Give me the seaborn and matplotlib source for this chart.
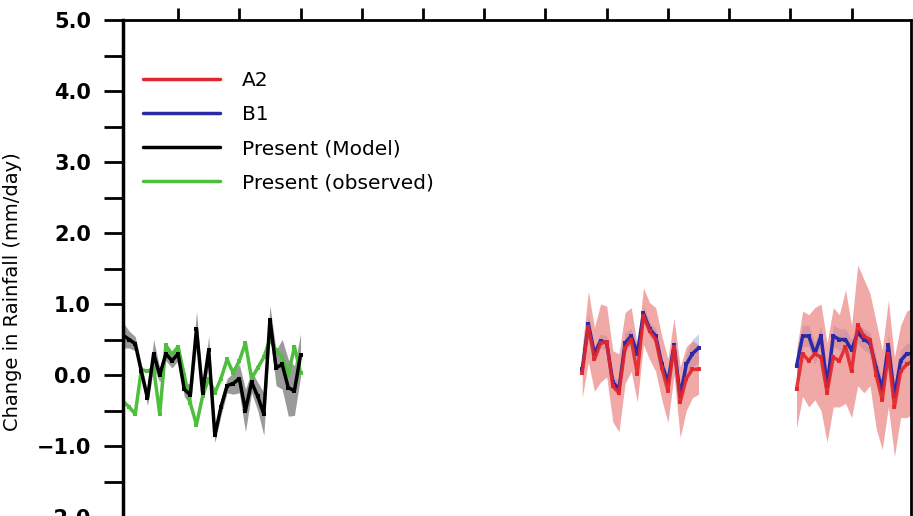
import matplotlib
matplotlib.use('Agg')
import matplotlib.pyplot as plt
import seaborn as sns
from matplotlib.lines import Line2D
from matplotlib.ticker import MultipleLocator, FuncFormatter

# years for each period
present_years = list(range(1961, 1991))
mid_years = list(range(2036, 2056))
late_years = list(range(2071, 2091))

# present day, model (black) and observed (green)
model_present = [0.56, 0.50, 0.44, 0.05, -0.33, 0.30, 0.00, 0.30, 0.20, 0.30,
                 -0.20, -0.28, 0.65, -0.25, 0.35, -0.85, -0.45, -0.15, -0.12, -0.05,
                 -0.50, -0.10, -0.30, -0.55, 0.78, 0.10, 0.15, -0.18, -0.22, 0.28]
model_spread = [0.18, 0.12, 0.10, 0.10, 0.10, 0.20, 0.10, 0.10, 0.10, 0.10,
                0.10, 0.15, 0.25, 0.10, 0.20, 0.10, 0.12, 0.10, 0.15, 0.20,
                0.30, 0.15, 0.20, 0.30, 0.20, 0.25, 0.35, 0.40, 0.35, 0.30]
obs_present = [-0.37, -0.45, -0.55, 0.08, 0.05, 0.10, -0.55, 0.42, 0.29, 0.40,
               0.00, -0.40, -0.70, -0.30, -0.05, -0.25, -0.05, 0.22, 0.03, 0.20,
               0.45, -0.05, 0.10, 0.25, 0.50, 0.35, 0.25, 0.00, 0.40, 0.03]

# mid century scenarios
a2_mid = [0.03, 0.68, 0.22, 0.45, 0.47, -0.16, -0.25, 0.38, 0.50, 0.02,
          0.83, 0.62, 0.50, 0.10, -0.22, 0.40, -0.38, -0.05, 0.08, 0.08]
a2_mid_spread = [0.35, 0.50, 0.45, 0.55, 0.50, 0.50, 0.55, 0.50, 0.45, 0.40,
                 0.40, 0.40, 0.45, 0.45, 0.45, 0.40, 0.50, 0.45, 0.40, 0.35]
b1_mid = [0.08, 0.72, 0.30, 0.48, 0.45, -0.10, -0.20, 0.45, 0.55, 0.30,
          0.87, 0.65, 0.55, 0.15, -0.10, 0.42, -0.30, 0.15, 0.30, 0.38]
b1_mid_spread = [0.10, 0.15, 0.10, 0.10, 0.10, 0.10, 0.10, 0.15, 0.10, 0.10,
                 0.10, 0.10, 0.10, 0.10, 0.10, 0.10, 0.15, 0.15, 0.20, 0.20]

# end of century scenarios
a2_late = [-0.20, 0.30, 0.20, 0.30, 0.25, -0.25, 0.25, 0.20, 0.40, 0.05,
           0.70, 0.55, 0.50, 0.00, -0.35, 0.30, -0.45, 0.05, 0.15, 0.20]
a2_late_spread = [0.55, 0.60, 0.65, 0.65, 0.75, 0.70, 0.70, 0.65, 0.80, 0.65,
                  0.85, 0.80, 0.65, 0.75, 0.70, 0.75, 0.70, 0.65, 0.75, 0.75]
b1_late = [0.12, 0.55, 0.55, 0.30, 0.55, -0.15, 0.55, 0.50, 0.50, 0.35,
           0.60, 0.50, 0.45, 0.10, -0.20, 0.42, -0.30, 0.20, 0.30, 0.30]
b1_late_spread = [0.15] * 20

RED = '#e3262b'
BLUE = '#2a2aa8'
GREEN = '#4dbf3c'

sns.set_style('ticks')
plt.rcParams['font.family'] = ['DejaVu Sans']
plt.rcParams['text.color'] = 'black'
plt.rcParams['axes.labelcolor'] = 'black'

fig = plt.figure(figsize=(9.13, 5.16), dpi=100)
ax = fig.add_axes([123 / 913, -1 / 516, 788 / 913, 497 / 516])


def band(x, y, s, color, alpha):
    lo = [a - b for a, b in zip(y, s)]
    hi = [a + b for a, b in zip(y, s)]
    ax.fill_between(x, lo, hi, color=color, alpha=alpha, lw=0)


band(present_years, model_present, model_spread, '#707070', 0.7)
band(mid_years, b1_mid, b1_mid_spread, '#9fb4e6', 0.6)
band(late_years, b1_late, b1_late_spread, '#9fb4e6', 0.6)
band(mid_years, a2_mid, a2_mid_spread, '#e8706e', 0.6)
band(late_years, a2_late, a2_late_spread, '#e8706e', 0.6)

kw = dict(marker='s', markersize=3, markeredgewidth=0, lw=2.5, ax=ax)
sns.lineplot(x=present_years, y=obs_present, color=GREEN, **kw)
sns.lineplot(x=present_years, y=model_present, color='black', **kw)
sns.lineplot(x=mid_years, y=b1_mid, color=BLUE, **kw)
sns.lineplot(x=late_years, y=b1_late, color=BLUE, **kw)
sns.lineplot(x=mid_years, y=a2_mid, color=RED, alpha=0.9, **kw)
sns.lineplot(x=late_years, y=a2_late, color=RED, alpha=0.9, **kw)

ax.set_xlim(1961, 2089.7)
ax.set_ylim(-2.0, 5.0)

ax.yaxis.set_major_locator(MultipleLocator(1.0))
ax.yaxis.set_minor_locator(MultipleLocator(0.5))
ax.yaxis.set_major_formatter(FuncFormatter(lambda v, p: f'{v:.1f}'.replace('-', '\u2212')))
ax.tick_params(axis='y', which='both', length=14, width=2, direction='out',
               labelsize=15, pad=9, color='black', labelcolor='black')
for t in ax.get_yticklabels():
    t.set_fontweight('semibold')

ax.xaxis.set_major_locator(MultipleLocator(10))
ax.xaxis.tick_top()
ax.tick_params(axis='x', which='major', length=9, width=2, direction='out',
               labeltop=False, labelbottom=False, color='black')

for sp in ax.spines.values():
    sp.set_linewidth(2)
    sp.set_visible(True)
    sp.set_color('black')
ax.spines['left'].set_linewidth(2.5)

ax.set_ylabel('Change in Rainfall (mm/day)', fontsize=14)
ax.yaxis.set_label_coords(-0.128, 0.453)

handles = [Line2D([], [], color=RED, lw=2.5),
           Line2D([], [], color=BLUE, lw=2.5),
           Line2D([], [], color='black', lw=2.5),
           Line2D([], [], color=GREEN, lw=2.5)]
labels = ['A2', 'B1', 'Present (Model)', 'Present (observed)']
ax.legend(handles, labels, loc='upper left', frameon=False, fontsize=14.5,
          bbox_to_anchor=(143 / 913, 1 - 71 / 516),
          bbox_transform=fig.transFigure, borderpad=0, borderaxespad=0,
          handlelength=3.8, handletextpad=1.1, labelspacing=0.75)

fig.savefig('out.png', dpi=100)
